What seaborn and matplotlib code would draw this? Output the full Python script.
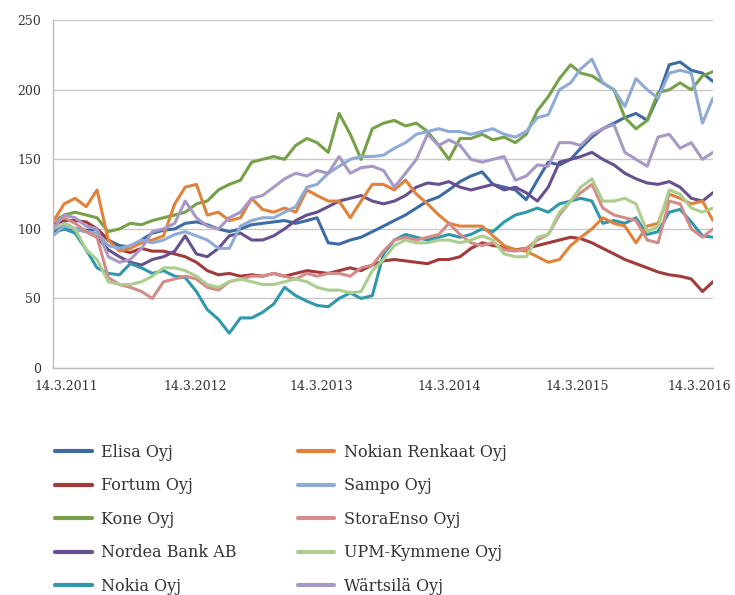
import pandas as pd
import matplotlib.pyplot as plt
import matplotlib.transforms as mtransforms
import seaborn as sns

# kuukausittaiset pisteet 14.3.2011 - 14.3.2016 (indeksi, alku = 100)
dates = pd.date_range("2011-03-14", periods=61, freq=pd.DateOffset(months=1))

elisa = [97, 100, 100, 99, 100, 92, 88, 87, 92, 97, 99, 100, 104, 105, 103, 100, 98, 100, 103, 104,
         105, 106, 104, 106, 108, 90, 89, 92, 94, 98, 102, 106, 110, 115, 120, 123, 128, 134, 138, 141,
         132, 130, 128, 121, 135, 148, 146, 150, 158, 166, 172, 176, 180, 183, 178, 195, 218, 220, 214, 212, 206]
fortum = [103, 106, 106, 105, 100, 92, 85, 83, 86, 84, 84, 82, 80, 76, 70, 67, 68, 66, 67, 66,
          68, 66, 68, 70, 69, 68, 70, 72, 70, 74, 77, 78, 77, 76, 75, 78, 78, 80, 86, 90,
          88, 87, 85, 86, 88, 90, 92, 94, 93, 90, 86, 82, 78, 75, 72, 69, 67, 66, 64, 55, 62]
kone = [105, 110, 112, 110, 108, 98, 100, 104, 103, 106, 108, 110, 112, 118, 120, 128, 132, 135, 148, 150,
        152, 150, 160, 165, 162, 155, 183, 168, 150, 172, 176, 178, 174, 176, 170, 160, 150, 165, 165, 168,
        164, 166, 162, 168, 185, 195, 208, 218, 212, 210, 205, 200, 180, 172, 178, 198, 200, 205, 200, 210, 213]
nordea = [97, 104, 100, 98, 94, 85, 80, 76, 74, 78, 80, 84, 95, 82, 80, 86, 95, 97, 92, 92,
          95, 100, 106, 110, 112, 116, 120, 122, 124, 120, 118, 120, 124, 130, 133, 132, 134, 130, 128, 130,
          132, 128, 130, 126, 120, 130, 148, 150, 152, 155, 150, 146, 140, 136, 133, 132, 134, 130, 122, 120, 126]
nokia = [100, 100, 97, 85, 72, 68, 67, 75, 72, 68, 70, 66, 65, 55, 42, 35, 25, 36, 36, 40,
         46, 58, 52, 48, 45, 44, 50, 54, 50, 52, 82, 92, 96, 94, 92, 94, 96, 94, 96, 100,
         98, 105, 110, 112, 115, 112, 118, 120, 122, 120, 104, 106, 104, 108, 96, 98, 112, 114, 105, 95, 94]
nokian = [105, 118, 122, 116, 128, 92, 84, 86, 90, 92, 95, 118, 130, 132, 110, 112, 106, 108, 122, 114,
          112, 115, 112, 128, 124, 120, 120, 108, 120, 132, 132, 128, 135, 125, 118, 110, 104, 102, 102, 102,
          95, 88, 85, 84, 80, 76, 78, 88, 94, 100, 108, 104, 102, 90, 102, 104, 125, 122, 118, 120, 106]
sampo = [95, 102, 100, 98, 97, 88, 86, 88, 92, 90, 92, 96, 98, 95, 92, 86, 86, 102, 106, 108,
         108, 112, 116, 130, 132, 140, 145, 150, 152, 152, 153, 158, 162, 168, 170, 172, 170, 170, 168, 170,
         172, 168, 166, 170, 180, 182, 200, 205, 215, 222, 205, 200, 188, 208, 200, 194, 212, 214, 212, 176, 194]
storaenso = [105, 108, 104, 98, 94, 65, 60, 58, 55, 50, 62, 64, 66, 64, 58, 56, 62, 64, 66, 66,
             68, 66, 64, 68, 66, 68, 68, 66, 72, 74, 84, 92, 94, 92, 94, 96, 104, 96, 90, 88,
             90, 85, 84, 86, 92, 96, 110, 120, 126, 132, 115, 110, 108, 106, 92, 90, 120, 118, 100, 94, 100]
upm = [100, 104, 100, 85, 78, 62, 60, 60, 62, 66, 72, 72, 70, 66, 60, 58, 62, 64, 62, 60,
       60, 62, 64, 62, 58, 56, 56, 54, 55, 70, 78, 88, 92, 90, 90, 92, 92, 90, 92, 95,
       92, 82, 80, 80, 94, 96, 112, 120, 130, 136, 120, 120, 122, 118, 98, 102, 128, 125, 115, 112, 115]
wartsila = [100, 110, 108, 102, 100, 80, 76, 78, 86, 98, 100, 104, 120, 108, 102, 100, 108, 112, 122, 124,
            130, 136, 140, 138, 142, 140, 152, 140, 144, 145, 142, 130, 140, 150, 168, 160, 164, 160, 150, 148,
            150, 152, 135, 138, 146, 145, 162, 162, 160, 168, 172, 175, 155, 150, 145, 166, 168, 158, 162, 150, 155]

companies = ["Elisa Oyj", "Fortum Oyj", "Kone Oyj", "Nordea Bank AB", "Nokia Oyj",
             "Nokian Renkaat Oyj", "Sampo Oyj", "StoraEnso Oyj", "UPM-Kymmene Oyj", "Wärtsilä Oyj"]
series = [elisa, fortum, kone, nordea, nokia, nokian, sampo, storaenso, upm, wartsila]
colors = ["#3c6ca3", "#a33a3a", "#76a148", "#66508f", "#2f98ad",
          "#e0823a", "#8eabd6", "#d48c88", "#abce8e", "#a898c6"]
years = list(range(2011, 2017))

# pitkä muoto seabornia varten
df = pd.concat([pd.DataFrame({"date": dates, "value": s, "company": c})
                for c, s in zip(companies, series)], ignore_index=True)

sns.set_style("white")
plt.rcParams["font.family"] = ["DejaVu Serif"]

fig = plt.figure(figsize=(7.35, 5.95), dpi=100)
ax = fig.add_axes([0.0721, 0.3815, 0.8979, 0.5845])

sns.lineplot(data=df, x="date", y="value", hue="company", hue_order=companies,
             palette=colors, linewidth=2.2, ax=ax)

ax.set_xlim(dates[0], dates[-1])
ax.set_ylim(0, 250)
ax.set_yticks(range(0, 251, 50))
ax.set_xticks(pd.to_datetime([f"{y}-03-14" for y in years]))
ax.set_xticklabels([f"14.3.{y}" for y in years])
ax.set_xlabel("")
ax.set_ylabel("")

ax.grid(axis="y", color="#c9c9c9", linewidth=1)
ax.set_axisbelow(True)
for side in ["top", "right"]:
    ax.spines[side].set_visible(False)
for side in ["left", "bottom"]:
    ax.spines[side].set_color("#bdbdbd")
    ax.spines[side].set_linewidth(1)
ax.tick_params(axis="both", colors="#bdbdbd", length=5, width=1, labelcolor="#333333", labelsize=9)

# päivämäärät on siirretty hieman kuten alkuperäisessä
shifts = [13, 10, 4, 0, -4, -14]
for lab, dx in zip(ax.get_xticklabels(), shifts):
    lab.set_transform(lab.get_transform() + mtransforms.ScaledTranslation(dx / 100, 0, fig.dpi_scale_trans))

handles, labels = ax.get_legend_handles_labels()
ax.get_legend().remove()
leg = fig.legend(handles, labels, ncol=2, loc="upper left", bbox_to_anchor=(0.075, 0.254),
                 frameon=False, borderpad=0, borderaxespad=0, fontsize=11.5,
                 handlelength=2.3, handletextpad=0.6, labelspacing=1.03, columnspacing=3.8)
for line in leg.get_lines():
    line.set_linewidth(3)
for t in leg.get_texts():
    t.set_color("#333333")

fig.savefig("out.png", dpi=100)
